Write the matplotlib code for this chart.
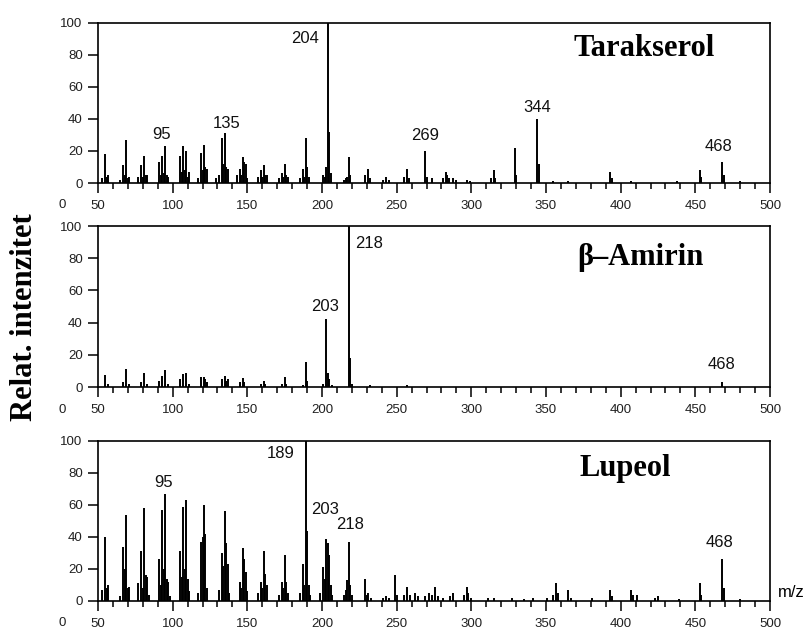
import numpy as np
import matplotlib
matplotlib.use("Agg")
import matplotlib.pyplot as plt

# Peak lists (m/z, relative intensity %)
tarakserol_mz = [53, 55, 56, 57, 65, 67, 68, 69, 70, 71,
                 77, 79, 80, 81, 82, 83, 91, 92, 93, 94, 95, 96, 97,
                 105, 106, 107, 108, 109, 110, 111, 117, 119, 120, 121, 122, 123,
                 129, 131, 133, 134, 135, 136, 137, 143, 145, 146, 147, 148, 149, 150,
                 157, 159, 160, 161, 162, 163, 171, 173, 174, 175, 176, 177,
                 185, 187, 188, 189, 190, 191, 201, 202, 203, 204, 205, 206,
                 215, 216, 217, 218, 219, 229, 231, 232, 241, 243, 245,
                 255, 257, 258, 269, 270, 274, 281, 283, 284, 285, 288, 290, 297, 299,
                 313, 315, 316, 329, 330, 344, 345, 355, 365, 393, 394, 407, 438,
                 453, 454, 468, 469, 480]
tarakserol_int = [3, 18, 4, 5, 2, 11, 5, 27, 3, 4,
                  4, 11, 4, 17, 5, 5, 13, 5, 17, 6, 23, 5, 4,
                  17, 7, 23, 8, 20, 4, 7, 3, 19, 8, 24, 10, 9,
                  3, 5, 28, 12, 31, 10, 9, 5, 9, 5, 16, 13, 12, 3,
                  4, 8, 4, 11, 5, 5, 3, 6, 4, 12, 5, 4,
                  3, 9, 4, 28, 10, 4, 5, 4, 10, 100, 32, 6,
                  2, 3, 4, 16, 5, 5, 9, 3, 2, 4, 2,
                  4, 9, 3, 20, 4, 3, 3, 7, 5, 3, 3, 2, 2, 1,
                  3, 8, 3, 22, 5, 40, 12, 1, 1, 7, 3, 1, 1,
                  8, 4, 13, 5, 1]

amirin_mz = [55, 57, 67, 69, 71, 79, 81, 83, 91, 93, 95, 97,
             105, 107, 109, 111, 119, 121, 122, 123, 133, 135, 136, 137,
             145, 147, 148, 159, 161, 162, 173, 175, 176, 187, 189, 190,
             201, 203, 204, 205, 207, 218, 219, 220, 232, 257, 468]
amirin_int = [7.5, 2, 3, 11, 2, 3, 8.5, 2, 4, 7, 10.5, 2,
              5, 8, 8.5, 2, 6.5, 6.5, 5, 3, 5, 7, 4, 5,
              3, 5.5, 3, 2, 4, 2, 2, 6.4, 2, 1, 15.7, 4,
              2, 42, 9, 5, 1, 100, 18, 2, 1, 1, 3]

lupeol_mz = [53, 55, 56, 57, 65, 67, 68, 69, 70, 71,
             77, 79, 80, 81, 82, 83, 84, 91, 92, 93, 94, 95, 96, 97, 98,
             105, 106, 107, 108, 109, 110, 111, 117, 119, 120, 121, 122, 123,
             131, 133, 134, 135, 136, 137, 138, 145, 146, 147, 148, 149, 150,
             157, 159, 160, 161, 162, 163, 171, 173, 174, 175, 176, 177,
             185, 187, 188, 189, 190, 191, 192, 199, 201, 202, 203, 204, 205, 206, 207,
             215, 216, 217, 218, 219, 220, 229, 230, 231, 233, 241, 243, 245,
             249, 250, 255, 257, 259, 262, 264, 269, 272, 274, 276, 278, 281,
             286, 288, 295, 297, 298, 300, 311, 315, 327, 335, 341, 351, 355,
             357, 358, 365, 367, 381, 393, 394, 407, 408, 411, 423, 425, 439,
             453, 454, 468, 469, 480]
lupeol_int = [7, 40, 8, 10, 3, 34, 20, 54, 8, 9,
              11, 31, 8, 58, 16, 15, 4, 26, 10, 57, 20, 67, 14, 12, 3,
              31, 15, 58.5, 20, 63, 14, 6, 5, 37, 40, 60, 42, 8,
              7, 30, 22, 56, 36, 23, 5, 12, 8, 33, 26, 18, 6,
              5, 12, 8, 31, 17, 10, 4, 12, 8, 29, 12, 5,
              5, 23, 10, 100, 44, 10, 4, 5, 21, 14, 39, 36, 29, 10, 4,
              4, 7, 13, 37, 10, 4, 14, 4, 5, 2, 2, 3, 2,
              16, 4, 4, 9, 4, 5, 3, 3, 5, 4, 9, 3, 2,
              3, 5, 4, 9, 5, 2, 2, 2, 2, 1, 2, 2, 4,
              11, 5, 7, 2, 2, 7, 3, 7, 4, 4, 2, 3, 1,
              11, 4, 26, 8, 1]

# Labelled peaks: (text, x, y) for each panel
tarakserol_labels = [("95", 92.6, 30), ("135", 136, 37), ("269", 269, 29.4),
                     ("344", 343.8, 47), ("468", 465.4, 22.7)]
amirin_labels = [("203", 202, 50), ("468", 467.6, 13.7)]
lupeol_labels = [("95", 93.7, 74), ("203", 202, 57), ("218", 218.7, 47.5),
                 ("468", 465.9, 36.5)]

names = ["Tarakserol", "\u03b2\u2013Amirin", "Lupeol"]

fig = plt.figure(figsize=(8.05, 6.33), dpi=100)

# Axes rectangles (pixels -> figure fraction)
rects = [[0.1217, 0.7109, 0.8348, 0.2528],
         [0.1217, 0.3886, 0.8348, 0.2543],
         [0.1217, 0.0506, 0.8348, 0.2528]]
spectra = [(tarakserol_mz, tarakserol_int, tarakserol_labels),
           (amirin_mz, amirin_int, amirin_labels),
           (lupeol_mz, lupeol_int, lupeol_labels)]
name_pos = [(0.8125, 0.84), (0.807, 0.807), (0.784, 0.825)]

axes = []
for rect, (mz, inten, labels), name, pos in zip(rects, spectra, names, name_pos):
    ax = fig.add_axes(rect)
    ax.vlines(mz, 0, inten, color="black", lw=1.4)
    ax.set_xlim(50, 500)
    ax.set_ylim(0, 100)
    ax.set_xticks(np.arange(50, 501, 50))
    ax.set_xticks(np.arange(50, 501, 10), minor=True)
    ax.set_yticks(np.arange(0, 101, 20))
    ax.tick_params(axis="both", which="major", direction="out", length=7, width=1.1,
                   labelsize=9.5, labelcolor="#202020")
    ax.tick_params(axis="x", which="major", pad=5)
    ax.tick_params(axis="y", which="major", pad=4)
    ax.tick_params(axis="x", which="minor", direction="out", length=4, width=1.1)
    for s in ax.spines.values():
        s.set_linewidth(1.2)
    for text, x, y in labels:
        ax.text(x, y, text, ha="center", va="center", fontsize=12,
                family="Liberation Sans", color="#111111")
    ax.text(pos[0], pos[1], name, transform=ax.transAxes, ha="center", va="center",
            fontsize=22, fontweight="bold", family="Liberation Serif")
    # stray "0" left of the x axis as in the original scan
    ax.text(26, -0.14, "0", transform=ax.get_xaxis_transform(), ha="center",
            va="center", fontsize=9.5, color="#202020", clip_on=False,
            family="Liberation Sans")
    for lab in ax.get_xticklabels() + ax.get_yticklabels():
        lab.set_family("Liberation Sans")
    axes.append(ax)

# Main peak labels sitting to the side of the 100 % line
axes[0].text(198, 90, "204", ha="right", va="center", fontsize=12,
             family="Liberation Sans", color="#111111")
axes[1].text(222, 89, "218", ha="left", va="center", fontsize=12,
             family="Liberation Sans", color="#111111")
axes[2].text(182, 92, "189", ha="right", va="center", fontsize=12,
             family="Liberation Sans", color="#111111")

# m/z label cut by the right edge of the picture
axes[2].text(505.4, 5, "m/z", ha="left", va="center", fontsize=12,
             family="Liberation Sans", clip_on=False)

fig.text(0.03, 0.499, "Relat. intenzitet", rotation=90, ha="center", va="center",
         fontsize=22, fontweight="bold", family="Liberation Serif")

plt.savefig("out.png", dpi=100)
